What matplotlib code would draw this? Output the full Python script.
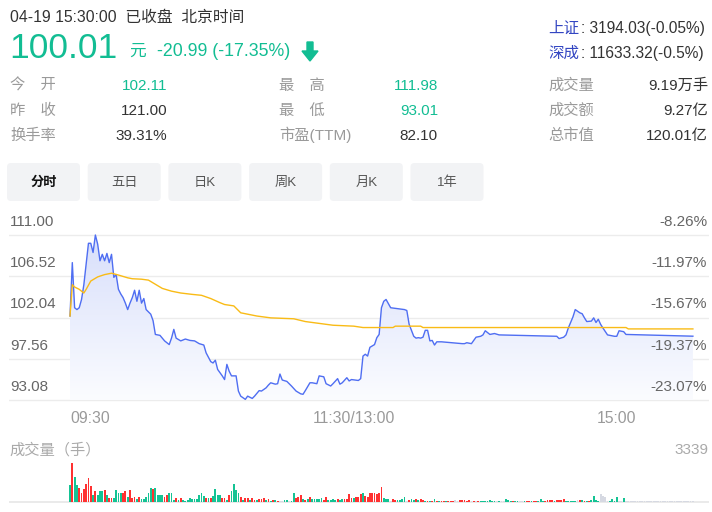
import numpy as np
import matplotlib
matplotlib.use('Agg')
import matplotlib.pyplot as plt
from matplotlib.patches import Polygon, FancyBboxPatch
from matplotlib.colors import LinearSegmentedColormap

plt.rcParams['font.family'] = ['Liberation Sans', 'Noto Sans CJK SC', 'DejaVu Sans']

# ---- data ----
price_min = [0, 1, 2, 3, 4, 5, 6, 7, 8, 9, 10, 11, 12, 13, 14, 15, 16, 17, 18, 19,
             20, 21, 22, 23, 24, 25, 26, 27, 28, 29, 30, 31, 32, 33, 35, 36, 37, 39, 41, 43,
             44, 45, 46, 48, 50, 52, 54, 56, 58, 59, 61, 62, 63, 64, 66, 67, 68, 69, 70, 72,
             73, 74, 76, 77, 79, 80, 82, 83, 85, 86, 87, 89, 90, 91, 92, 94, 96, 98, 100, 101,
             102, 104, 105, 107, 108, 110, 111, 113, 114, 116, 117, 118, 120, 121, 122, 125, 126, 127, 128, 129,
             130, 132, 133, 134, 135, 136, 137, 139, 145, 146, 147, 149, 150, 151, 152, 153, 154, 155, 156, 157,
             158, 159, 161, 170, 171, 172, 174, 176, 178, 179, 180, 182, 184, 186, 210, 211, 212, 214, 215, 216,
             218, 219, 221, 222, 223, 224, 226, 227, 228, 229, 230, 231, 233, 236, 237, 238, 240, 241, 270]
price = [102.2, 108.0, 103.1, 102.9, 103.1, 104.0, 105.6, 107.8, 110.1, 110.1, 109.1, 111.0, 110.0, 108.2, 108.9, 108.2, 109.0, 108.0, 108.9, 106.4,
         106.7, 105.1, 104.6, 104.2, 103.6, 102.9, 103.6, 104.2, 105.0, 103.8, 105.0, 103.6, 104.1, 102.9, 102.4, 101.7, 100.2, 100.1, 99.5, 99.1,
         99.8, 100.75, 99.8, 99.5, 99.7, 99.55, 99.5, 99.2, 99.05, 98.2, 97.25, 97.1, 97.4, 96.4, 95.7, 95.3, 96.95, 96.2, 95.7, 95.7,
         94.05, 93.5, 93.15, 93.5, 93.25, 93.5, 94.1, 94.05, 94.4, 94.7, 94.95, 94.8, 94.85, 95.9, 95.25, 95.1, 94.6, 94.05, 93.75, 93.7,
         94.1, 94.95, 94.95, 94.85, 95.7, 95.6, 94.85, 94.6, 94.85, 95.4, 94.8, 94.95, 95.5, 95.15, 95.3, 95.2, 95.4, 97.85, 98.05, 97.85,
         98.8, 99.1, 99.85, 100.2, 103.1, 103.8, 104.0, 103.1, 102.9, 102.8, 101.3, 100.0, 99.8, 99.85, 99.8, 99.9, 100.65, 100.65, 99.5, 99.55,
         99.05, 99.4, 99.4, 99.2, 99.2, 99.3, 99.2, 99.9, 100.0, 100.15, 100.6, 100.2, 100.3, 100.15, 100.0, 100.0, 99.75, 99.9, 100.15, 100.9,
         102.1, 102.9, 102.55, 102.45, 102.0, 101.6, 101.65, 102.0, 101.5, 101.85, 101.3, 100.9, 100.15, 100.0, 100.0, 100.6, 100.5, 100.2, 100.01, 100.01]
price = price[:len(price_min)]

avg_min = [0, 1, 2, 4, 6, 7, 9, 12, 15, 18, 21, 25, 27, 31, 34, 37, 40, 44, 48, 53,
           57, 61, 65, 67, 71, 74, 77, 81, 87, 97, 102, 108, 114, 123, 127, 140, 141, 152, 153, 241,
           242, 270]
avg = [102.2, 105.6, 105.35, 105.1, 104.7, 105.1, 106.0, 106.45, 106.7, 106.85, 106.65, 106.35, 106.25, 106.2, 106.1, 105.65, 105.2, 104.9, 104.7, 104.55,
       104.45, 104.1, 103.65, 103.45, 103.3, 102.55, 102.4, 102.2, 102.0, 101.9, 101.6, 101.4, 101.2, 101.1, 100.95, 100.95, 101.1, 101.1, 100.95, 100.95,
       100.8, 100.8]

volume = [1475, 3339, 2124, 1475, 1180, 797, 1092, 1564, 2065, 1387,
          590, 885, 590, 885, 885, 974, 590, 295, 295, 295,
          974, 797, 738, 738, 885, 443, 974, 295, 443, 207,
          443, 207, 207, 443, 797, 1180, 1092, 1180, 590, 590,
          590, 443, 590, 738, 797, 148, 295, 148, 295, 148,
          89, 148, 295, 207, 207, 207, 590, 738, 502, 295,
          295, 295, 502, 1092, 590, 590, 295, 295, 148, 590,
          885, 1564, 1033, 797, 443, 148, 295, 295, 148, 295,
          148, 148, 207, 207, 295, 148, 207, 89, 148, 148,
          89, 89, 30, 148, 148, 30, 89, 738, 295, 443,
          590, 207, 148, 207, 443, 207, 207, 207, 207, 295,
          148, 443, 148, 148, 207, 148, 207, 148, 207, 207,
          207, 680, 295, 295, 443, 443, 680, 738, 502, 443,
          797, 738, 797, 680, 797, 1270, 295,
          236, 236, 59, 236, 148, 148, 148, 236, 384, 59,
          148, 236, 148, 236, 148, 236, 148, 89, 89, 89,
          89, 236, 89, 89, 89, 89, 89, 89, 89, 89,
          148, 89, 148, 148, 148, 89, 148, 30, 30, 30,
          89, 89, 89, 89, 89, 148, 89, 89, 30, 30,
          30, 30, 236, 148, 89, 89, 89, 30, 30, 30,
          30, 30, 89, 30, 89, 89, 89, 236, 89, 89,
          148, 148, 148, 89, 148, 148, 148, 236, 89, 89,
          89, 89, 89, 148, 148, 148, 89, 89, 89, 148,
          472, 148, 89, 680, 530, 384, 89, 89, 236, 89,
          384, 30, 30, 325] + [80] * 30
vol_dir = ('grggrrrrrr' 'grgggrgrrg' 'gggrrgrrrg' 'rgggggrggg' 'grrgggrgrg'
           'gggggggggr' 'grggggrrgr' 'ggggrgrrgr' 'rgrrrgrgrg' 'rnnggnggrr'
           'rgrgrggggg' 'rrggggrggr' 'rrrgrrrgrr' 'rrrrrrg'
           'ggnrrggggn' 'rggrgrrgrg' 'rgrgrrgrrr' 'nnrrrrrnrn' 'rggggggg' 'ng'
           'nngggrggnn' 'grrgrrgggr' 'rrrgrrrrgg' 'gggnrgrgrg' 'gggnnnnggg'
           'gnng') + 'n' * 30

price_ticks = [111.00, 106.52, 102.04, 97.56, 93.08]
pct_ticks = ['-8.26%', '-11.97%', '-15.67%', '-19.37%', '-23.07%']

green = '#12bd93'
red = '#ff3131'
dark = '#333333'
grey = '#9a9a9a'

fig = plt.figure(figsize=(7.12, 5.12), dpi=100)

# pixel overlay for the header
bg = fig.add_axes([0, 0, 1, 1])
bg.set_xlim(0, 712)
bg.set_ylim(512, 0)
bg.axis('off')

bg.text(10, 22, '04-19 15:30:00  已收盘  北京时间', fontsize=11.3, color=dark)
bg.text(9, 58, '100.01', fontsize=25.5, color=green)
bg.text(129, 56, '元', fontsize=12, color=green, family='Noto Sans CJK SC')
bg.text(157, 56, '-20.99 (-17.35%)', fontsize=12.8, color=green)
bg.add_patch(Polygon([(307, 42), (313, 42), (313, 51), (318, 51), (310, 61),
                      (302, 51), (307, 51)], closed=True, color=green))

bg.text(548, 33, '上证', fontsize=11.2, color='#3346c2', family='Noto Sans CJK SC')
bg.text(581, 33, ': 3194.03(-0.05%)', fontsize=11.2, color=dark)
bg.text(548, 58, '深成', fontsize=11.2, color='#3346c2', family='Noto Sans CJK SC')
bg.text(581, 58, ': 11633.32(-0.5%)', fontsize=11.2, color=dark)

rows_y = [90, 115, 140]
left_lab = ['今　开', '昨　收', '换手率']
left_val = ['102.11', '121.00', '39.31%']
left_col = [green, dark, dark]
mid_lab = ['最　高', '最　低', '市盈(TTM)']
mid_val = ['111.98', '93.01', '82.10']
mid_col = [green, green, dark]
right_lab = ['成交量', '成交额', '总市值']
right_val = ['9.19万手', '9.27亿', '120.01亿']
for i, yy in enumerate(rows_y):
    bg.text(10, yy, left_lab[i], fontsize=11, color=grey)
    bg.text(167, yy, left_val[i], fontsize=11, color=left_col[i], ha='right')
    bg.text(279, yy, mid_lab[i], fontsize=11, color=grey)
    bg.text(438, yy, mid_val[i], fontsize=11, color=mid_col[i], ha='right')
    bg.text(548, yy, right_lab[i], fontsize=11, color=grey)
    bg.text(708, yy, right_val[i], fontsize=11, color=dark, ha='right')

tabs = ['分时', '五日', '日K', '周K', '月K', '1年']
for i, t in enumerate(tabs):
    x0 = 7 + i * 80.7
    bg.add_patch(FancyBboxPatch((x0, 163), 73, 38, boxstyle='round,pad=0,rounding_size=4',
                                facecolor='#f2f3f5', edgecolor='none'))
    bg.text(x0 + 36.5, 183, t, fontsize=9.5, ha='center', va='center',
            color='#111111' if i == 0 else '#555555',
            fontweight='bold' if i == 0 else 'normal')

# price chart: pixels 9..709 horizontally, 230..405 vertically
px_per_min = 2.307
x_left, x_right = 9, 709
m_lo = (x_left - 70) / px_per_min
m_hi = (x_right - 70) / px_per_min
px_per_unit = 41.25 / 4.48
y_top, y_bot = 230, 405
p_top = 111.0 + (235 - y_top) / px_per_unit
p_bot = 111.0 - (y_bot - 235) / px_per_unit

ax = fig.add_axes([x_left / 712, 1 - y_bot / 512, (x_right - x_left) / 712, (y_bot - y_top) / 512])
ax.axis('off')
for p in price_ticks:
    ax.axhline(p, color='#ececec', lw=1.0, zorder=0)

verts = [(price_min[0], price_ticks[-1])] + list(zip(price_min, price)) + [(price_min[-1], price_ticks[-1])]
poly = Polygon(verts, closed=True, facecolor='none', edgecolor='none')
ax.add_patch(poly)
cmap = LinearSegmentedColormap.from_list('fade', ['#fbfcff', '#d8dffb'])
grad = np.linspace(1, 0, 256).reshape(-1, 1)
im = ax.imshow(grad, extent=[price_min[0], price_min[-1], price_ticks[-1], price_ticks[0]],
               aspect='auto', cmap=cmap, origin='upper', zorder=1)
im.set_clip_path(poly)

ax.plot(price_min, price, color='#4f6ef2', lw=1.0, zorder=3)
ax.plot(avg_min, avg, color='#f9bb16', lw=1.0, zorder=4)
ax.set_xlim(m_lo, m_hi)
ax.set_ylim(p_bot, p_top)

# volume chart
vol_px = 38.5 / max(volume)
vy_top, vy_bot = 458, 504
base = 501.7
ax2 = fig.add_axes([x_left / 712, 1 - vy_bot / 512, (x_right - x_left) / 712, (vy_bot - vy_top) / 512])
ax2.axis('off')
cmap_dir = {'r': red, 'g': '#14c394', 'n': '#d6d9e2'}
cols = [cmap_dir[c] for c in vol_dir[:len(volume)]]
ax2.bar(np.arange(len(volume)), volume, width=0.78, color=cols, zorder=2)
ax2.axhline(0, color='#e6e6e6', lw=1.2, zorder=1)
ax2.set_xlim(m_lo, m_hi)
ax2.set_ylim(-(vy_bot - base) / vol_px, (base - vy_top) / vol_px)

# labels drawn last so they sit on top of the fill
top = fig.add_axes([0, 0, 1, 1])
top.set_xlim(0, 712)
top.set_ylim(512, 0)
top.axis('off')
for p, pct in zip(price_ticks, pct_ticks):
    yy = 235 + (111.0 - p) * px_per_unit - 9
    top.text(10, yy, '%.2f' % p, fontsize=11, color='#666666')
    top.text(707, yy, pct, fontsize=11, color='#666666', ha='right')

top.text(70, 423, '09:30', fontsize=11.3, color=grey)
top.text(354, 423, '11:30/13:00', fontsize=11.3, color=grey, ha='center')
top.text(617, 423, '15:00', fontsize=11.3, color=grey, ha='center')

top.text(9, 455, '成交量（手）', fontsize=11, color='#aaaaaa', family='Noto Sans CJK SC')
top.text(708, 454, str(max(volume)), fontsize=11, color='#aaaaaa', ha='right')

fig.savefig('out.png', dpi=100)
